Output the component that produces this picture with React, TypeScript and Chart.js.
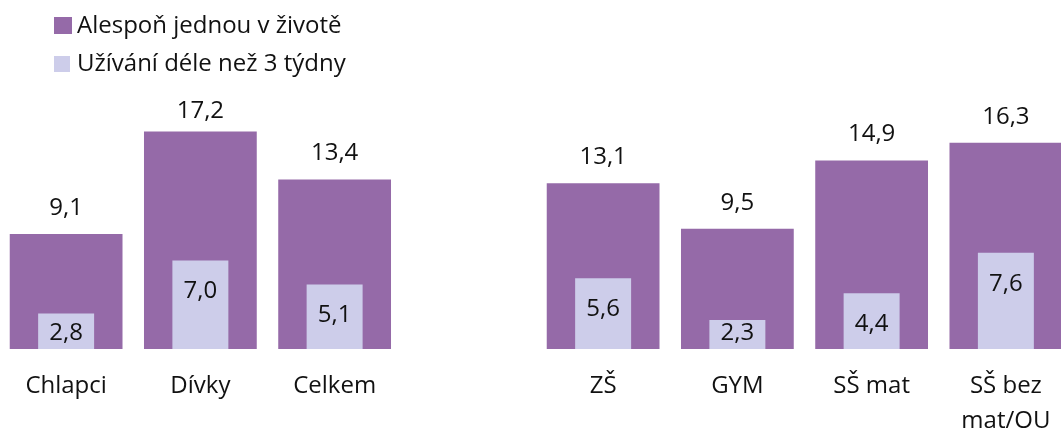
import React, { useEffect, useRef } from "react";
import { Chart, registerables } from "chart.js";

Chart.register(...registerables);

const categories: (string | string[])[] = [
  "Chlapci",
  "Dívky",
  "Celkem",
  "",
  "ZŠ",
  "GYM",
  "SŠ mat",
  ["SŠ bez", "mat/OU"],
];
const everUsed: (number | null)[] = [9.1, 17.2, 13.4, null, 13.1, 9.5, 14.9, 16.3];
const over3Weeks: (number | null)[] = [2.8, 7.0, 5.1, null, 5.6, 2.3, 4.4, 7.6];
const seriesNames = ["Alespoň jednou v životě", "Užívání déle než 3 týdny"];

const PURPLE = "#956AA8";
const LAVENDER = "#CDCDEA";
const TEXT = "#111111";
const FONT = '"Open Sans", "Noto Sans", sans-serif';
const FONT_SIZE = 24;

const fmt = (v: number) => v.toFixed(1).replace(".", ",");

const valueLabels = {
  id: "valueLabels",
  afterDatasetsDraw(chart: any) {
    const ctx = chart.ctx;
    const area = chart.chartArea;
    ctx.save();
    ctx.font = `${FONT_SIZE}px ${FONT}`;
    ctx.fillStyle = TEXT;
    ctx.textAlign = "center";
    ctx.textBaseline = "middle";
    chart.data.datasets.forEach((ds: any, di: number) => {
      const meta = chart.getDatasetMeta(di);
      meta.data.forEach((bar: any, i: number) => {
        const v = ds.data[i];
        if (v == null) return;
        const { x, y, base } = bar.getProps(["x", "y", "base"], true);
        let ly: number;
        if (di === 0) ly = Math.max(y - 26, area.top + 15);
        else ly = Math.min(y + 31, base - 16);
        ctx.fillText(fmt(v), x, ly);
      });
    });
    ctx.restore();
  },
};

export default function App() {
  const canvasRef = useRef<HTMLCanvasElement | null>(null);

  useEffect(() => {
    if (!canvasRef.current) return;
    const chart = new Chart(canvasRef.current, {
      type: "bar",
      data: {
        labels: categories,
        datasets: [
          {
            label: seriesNames[0],
            data: everUsed,
            backgroundColor: PURPLE,
            borderWidth: 0,
            grouped: false,
            categoryPercentage: 1,
            barPercentage: 0.84,
            order: 2,
          },
          {
            label: seriesNames[1],
            data: over3Weeks,
            backgroundColor: LAVENDER,
            borderWidth: 0,
            grouped: false,
            categoryPercentage: 1,
            barPercentage: 0.417,
            order: 1,
          },
        ] as any,
      },
      options: {
        responsive: false,
        animation: false,
        layout: { padding: { top: 96, left: 0, right: 0, bottom: 0 } },
        plugins: {
          legend: { display: false },
          tooltip: { enabled: false },
        },
        scales: {
          x: {
            grid: { display: false, drawTicks: false },
            border: { display: false },
            ticks: {
              color: TEXT,
              font: { family: FONT, size: FONT_SIZE, lineHeight: 1.45 },
              padding: 20,
              maxRotation: 0,
              autoSkip: false,
            },
            afterFit: (scale: any) => {
              scale.height = 85;
            },
          },
          y: {
            display: false,
            min: 0,
            max: 20,
          },
        },
      },
      plugins: [valueLabels],
    });
    return () => chart.destroy();
  }, []);

  const textStyle: React.CSSProperties = {
    position: "absolute",
    left: 77,
    fontFamily: FONT,
    fontSize: FONT_SIZE,
    lineHeight: "24px",
    color: TEXT,
    whiteSpace: "nowrap",
  };

  return (
    <div style={{ position: "fixed", left: 0, top: 0, width: 1061, height: 434, overflow: "hidden", background: "#fff" }}>
      <canvas ref={canvasRef} width={1074} height={434} style={{ position: "absolute", left: -1, top: 0 }} />
      <div style={{ position: "absolute", left: 54, top: 17, width: 18, height: 17, background: PURPLE }} />
      <div style={{ ...textStyle, top: 12 }}>{seriesNames[0]}</div>
      <div style={{ position: "absolute", left: 54, top: 56, width: 16, height: 16, background: LAVENDER }} />
      <div style={{ ...textStyle, top: 50 }}>{seriesNames[1]}</div>
    </div>
  );
}
